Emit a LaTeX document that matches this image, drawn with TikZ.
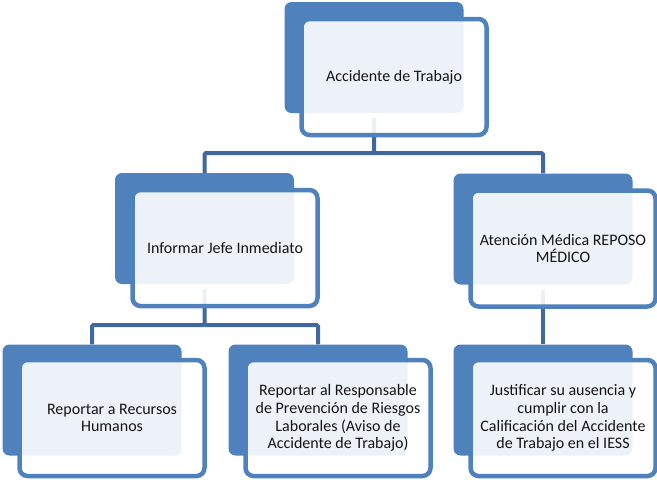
\documentclass[tikz,border=0pt]{standalone}
\usepackage{fontspec}
\setmainfont{Carlito}
\definecolor{boxblue}{HTML}{4F81BD}
\definecolor{connblue}{HTML}{41689D}
\definecolor{txt}{HTML}{141414}
\begin{document}
\begin{tikzpicture}[x=1pt,y=-1pt,
  backbox/.style={fill=boxblue, draw=none, rounded corners=7pt, minimum width=179pt, minimum height=111pt, inner sep=0pt},
  frontbox/.style={draw=boxblue, line width=4.5pt, fill=white, fill opacity=0.9, text opacity=1, rounded corners=8pt, minimum width=185pt, minimum height=116pt, inner sep=0pt, align=center, font=\fontsize{16}{17.8}\selectfont, text=txt},
  conn/.style={draw=connblue, line width=4pt, rounded corners=1.5pt}]
\useasboundingbox (0,0) rectangle (657,480);
% back boxes
\node[backbox] (b1) at (374,57.5) {};
\node[backbox] (b2) at (204.5,228.5) {};
\node[backbox] (b3) at (543,229) {};
\node[backbox] (b4) at (92,400) {};
\node[backbox] (b5) at (318,400) {};
\node[backbox] (b6) at (543,400) {};
% connectors
\draw[conn] ([yshift=-5pt]b1.south) -- (b1.south |- 0,153) -| (b2.north);
\draw[conn] (b1.south |- 0,153) -| (b3.north);
\draw[conn] ([yshift=-5pt]b2.south) -- (b2.south |- 0,325) -| (b4.north);
\draw[conn] (b2.south |- 0,325) -| (b5.north);
\draw[conn] ([yshift=-5pt]b3.south) -- (b6.north);
% front boxes
\node[frontbox] (f1) at (394,77) {Accidente de Trabajo};
\node[frontbox] (f2) at (225,248) {Informar Jefe Inmediato};
\node[frontbox] (f3) at (563,248.5) {Atención Médica REPOSO\\MÉDICO};
\node[frontbox] (f4) at (112,418) {Reportar a Recursos\\Humanos};
\node[frontbox] (f5) at (338,418) {Reportar al Responsable\\de Prevención de Riesgos\\Laborales (Aviso de\\Accidente de Trabajo)};
\node[frontbox] (f6) at (563,418) {Justificar su ausencia y\\cumplir con la\\Calificación del Accidente\\de Trabajo en el IESS};
\end{tikzpicture}
\end{document}
